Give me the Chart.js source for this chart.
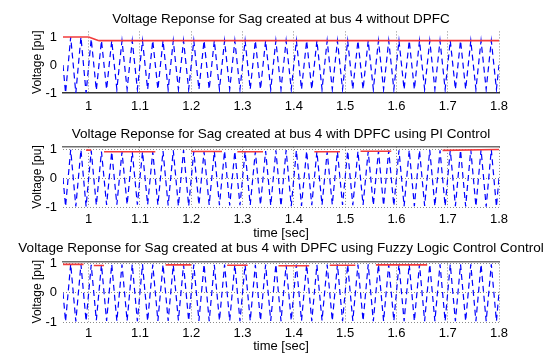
<!DOCTYPE html>
<html>
<head>
<meta charset="utf-8">
<script src="https://cdn.jsdelivr.net/npm/chart.js@4/dist/chart.umd.min.js"></script>
<style>
  html, body { margin: 0; padding: 0; background: #fff; overflow: hidden; }
  body { width: 557px; height: 354px; position: relative; }
  .panel { position: absolute; left: 0; width: 557px; }
</style>
</head>
<body>
<div class="panel" style="top:0;height:115px"><canvas id="c1"></canvas></div>
<div class="panel" style="top:120px;height:122px"><canvas id="c2"></canvas></div>
<div class="panel" style="top:234px;height:120px"><canvas id="c3"></canvas></div>
<script>
// axis ticks
const xTickValues = [1, 1.1, 1.2, 1.3, 1.4, 1.5, 1.6, 1.7, 1.8];
const xTickLabels = ['1', '1.1', '1.2', '1.3', '1.4', '1.5', '1.6', '1.7', '1.8'];
const yTickValues = [-1, 0, 1];
const yTickLabels = ['-1', '0', '1'];

const titles = [
  'Voltage Reponse for Sag created at bus 4 without DPFC',
  'Voltage Reponse for Sag created at bus 4 with DPFC using PI Control',
  'Voltage Reponse for Sag created at bus 4 with DPFC using Fuzzy Logic Control Control'
];

// times of the peaks / troughs of the 50 Hz waveform (sec)
const halfCycleTimes = [0.95,
  0.955, 0.965, 0.975, 0.985, 0.995,
  1.005, 1.015, 1.025, 1.035, 1.045, 1.055, 1.065, 1.075, 1.085, 1.095,
  1.105, 1.115, 1.125, 1.135, 1.145, 1.155, 1.165, 1.175, 1.185, 1.195,
  1.205, 1.215, 1.225, 1.235, 1.245, 1.255, 1.265, 1.275, 1.285, 1.295,
  1.305, 1.315, 1.325, 1.335, 1.345, 1.355, 1.365, 1.375, 1.385, 1.395,
  1.405, 1.415, 1.425, 1.435, 1.445, 1.455, 1.465, 1.475, 1.485, 1.495,
  1.505, 1.515, 1.525, 1.535, 1.545, 1.555, 1.565, 1.575, 1.585, 1.595,
  1.605, 1.615, 1.625, 1.635, 1.645, 1.655, 1.665, 1.675, 1.685, 1.695,
  1.705, 1.715, 1.725, 1.735, 1.745, 1.755, 1.765, 1.775, 1.785, 1.795,
  1.8];

// voltage at those instants [pu]
const noDpfcVolt = [0,
  -1, 1, -1, 1, -1,
  0.93, -0.9, 0.87, -0.87, 0.87, -0.87, 0.87, -0.87, 0.87, -0.87,
  0.87, -0.87, 0.87, -0.87, 0.87, -0.87, 0.87, -0.87, 0.87, -0.87,
  0.87, -0.87, 0.87, -0.87, 0.87, -0.87, 0.87, -0.87, 0.87, -0.87,
  0.87, -0.87, 0.87, -0.87, 0.87, -0.87, 0.87, -0.87, 0.87, -0.87,
  0.87, -0.87, 0.87, -0.87, 0.87, -0.87, 0.87, -0.87, 0.87, -0.87,
  0.87, -0.87, 0.87, -0.87, 0.87, -0.87, 0.87, -0.87, 0.87, -0.87,
  0.87, -0.87, 0.87, -0.87, 0.87, -0.87, 0.87, -0.87, 0.87, -0.87,
  0.87, -0.87, 0.87, -0.87, 0.87, -0.87, 0.87, -0.87, 0.87, -0.87,
  0];

const piVolt = [0,
  -0.98, 0.98, -0.98, 0.98, -0.98,
  0.95, -0.94, 0.92, -0.93, 0.91, -0.92, 0.91, -0.92, 0.91, -0.92,
  0.91, -0.92, 0.91, -0.93, 0.94, -0.95, 0.96, -0.97, 0.97, -0.97,
  0.93, -0.93, 0.92, -0.93, 0.93, -0.94, 0.94, -0.95, 0.93, -0.94,
  0.92, -0.93, 0.92, -0.93, 0.94, -0.95, 0.96, -0.97, 0.97, -0.97,
  0.96, -0.96, 0.94, -0.94, 0.92, -0.93, 0.91, -0.92, 0.92, -0.93,
  0.94, -0.94, 0.93, -0.93, 0.93, -0.94, 0.94, -0.95, 0.95, -0.96,
  0.96, -0.97, 0.97, -0.97, 0.96, -0.96, 0.97, -0.97, 0.96, -0.97,
  0.97, -0.97, 0.97, -0.98, 0.98, -0.98, 0.99, -0.99, 0.99, -0.99,
  0];

const fuzzyVolt = [0,
  -0.98, 0.98, -0.98, 0.97, -0.97,
  0.95, -0.94, 0.96, -0.96, 0.97, -0.97, 0.96, -0.96, 0.97, -0.97,
  0.97, -0.97, 0.96, -0.96, 0.96, -0.96, 0.95, -0.95, 0.96, -0.96,
  0.96, -0.96, 0.97, -0.97, 0.95, -0.95, 0.96, -0.96, 0.97, -0.97,
  0.96, -0.96, 0.95, -0.95, 0.96, -0.96, 0.97, -0.97, 0.95, -0.95,
  0.96, -0.96, 0.97, -0.97, 0.95, -0.95, 0.96, -0.96, 0.97, -0.97,
  0.96, -0.96, 0.96, -0.96, 0.97, -0.97, 0.97, -0.97, 0.96, -0.96,
  0.97, -0.97, 0.97, -0.97, 0.97, -0.97, 0.97, -0.97, 0.97, -0.97,
  0.97, -0.97, 0.97, -0.97, 0.97, -0.97, 0.97, -0.97, 0.97, -0.97,
  0];

// red magnitude trace: [t start, t end, value start, value end]
const noDpfcMag = [[0.95, 1.0, 1, 1], [1.0, 1.02, 1, 0.87], [1.02, 1.8, 0.87, 0.87]];
const piMag = [[0.995, 1.005, 0.97, 0.97], [1.03, 1.13, 0.91, 0.91], [1.2, 1.26, 0.92, 0.92],
  [1.29, 1.34, 0.91, 0.91], [1.44, 1.49, 0.91, 0.91], [1.53, 1.59, 0.93, 0.93], [1.69, 1.8, 0.96, 0.99]];
const fuzzyMag = [[0.95, 0.99, 0.97, 0.97], [1.01, 1.03, 0.93, 0.93], [1.15, 1.2, 0.95, 0.95],
  [1.27, 1.31, 0.94, 0.94], [1.37, 1.43, 0.92, 0.92], [1.47, 1.52, 0.94, 0.94], [1.56, 1.66, 0.95, 0.95]];

const FONT = "'Liberation Sans', Arial, sans-serif";

function wavePoints(vals) {
  return halfCycleTimes.map((t, i) => ({ x: t, y: vals[i] }));
}

function segPoints(segs) {
  const pts = [];
  segs.forEach(s => {
    pts.push({ x: s[0], y: s[2] }, { x: s[1], y: s[3] }, { x: s[1], y: null });
  });
  return pts;
}

function makeChart(id, p) {
  new Chart(document.getElementById(id), {
    type: 'line',
    data: {
      datasets: [
        { data: segPoints(p.mag), borderColor: '#f23c3c', borderWidth: 1.6, pointRadius: 0, spanGaps: false },
        { data: wavePoints(p.volt), borderColor: '#0000ff', borderWidth: 1.2, borderDash: [6, 4], pointRadius: 0 }
      ]
    },
    options: {
      animation: false,
      responsive: true,
      maintainAspectRatio: false,
      devicePixelRatio: 1,
      layout: { padding: { left: 5 } },
      plugins: {
        legend: { display: false },
        tooltip: { enabled: false },
        title: {
          display: true, text: p.title, color: '#000',
          font: { family: FONT, size: 13.5, weight: 'normal' },
          padding: p.titlePad
        }
      },
      scales: {
        x: {
          type: 'linear', min: 0.95, max: 1.8,
          afterBuildTicks: s => { s.ticks = xTickValues.map(v => ({ value: v })); },
          afterFit: s => { s.height = p.xh; },
          ticks: {
            color: '#000', font: { family: FONT, size: 13 }, padding: p.tickPad,
            maxRotation: 0, autoSkip: false, callback: (v, i) => xTickLabels[i]
          },
          grid: { color: '#8a8a8a', lineWidth: 1, drawTicks: false },
          border: { display: p.bottomLine, color: '#333', width: 1.5, dash: [1, 2] },
          title: {
            display: p.xTitle, text: 'time [sec]', color: '#000',
            font: { family: FONT, size: 13 }, padding: { top: 0, bottom: p.xTitlePad }
          }
        },
        xTop: {
          type: 'linear', position: 'top', min: 0.95, max: 1.8,
          afterFit: s => { s.height = 0; },
          ticks: { display: false },
          grid: { display: false, drawOnChartArea: false, drawTicks: false },
          border: { display: !p.bottomLine, color: '#6e6e6e', width: 1.5 }
        },
        y: {
          min: -1, max: p.yMax,
          afterBuildTicks: s => { s.ticks = yTickValues.map(v => ({ value: v })); },
          afterFit: s => { s.width = 58; },
          ticks: {
            color: '#000', font: { family: FONT, size: 13 }, padding: 6,
            callback: (v, i) => yTickLabels[i]
          },
          grid: { display: p.yGrid, color: '#8a8a8a', lineWidth: 1, drawTicks: false },
          border: { display: false, dash: [1, 2] },
          title: {
            display: true, text: 'Voltage [pu]', color: '#000',
            font: { family: FONT, size: 12 }, padding: { top: 25, bottom: 0 }
          }
        },
        yRight: {
          position: 'right', min: -1, max: p.yMax,
          afterFit: s => { s.width = 58; },
          ticks: { display: false },
          grid: { display: false, drawOnChartArea: false, drawTicks: false },
          border: { display: false }
        }
      }
    }
  });
}

makeChart('c1', {
  title: titles[0], volt: noDpfcVolt, mag: noDpfcMag,
  titlePad: { top: 10.9, bottom: 4.3 }, yMax: 1.2, xh: 22, tickPad: 6,
  xTitle: false, xTitlePad: 0, bottomLine: true, yGrid: false
});
makeChart('c2', {
  title: titles[1], volt: piVolt, mag: piMag,
  titlePad: { top: 5.9, bottom: 4.8 }, yMax: 1.08, xh: 35, tickPad: 5,
  xTitle: true, xTitlePad: 1.2, bottomLine: false, yGrid: true
});
makeChart('c3', {
  title: titles[2], volt: fuzzyVolt, mag: fuzzyMag,
  titlePad: { top: 5.9, bottom: 5.3 }, yMax: 1.07, xh: 32, tickPad: 4,
  xTitle: true, xTitlePad: 0, bottomLine: false, yGrid: true
});
</script>
</body>
</html>
